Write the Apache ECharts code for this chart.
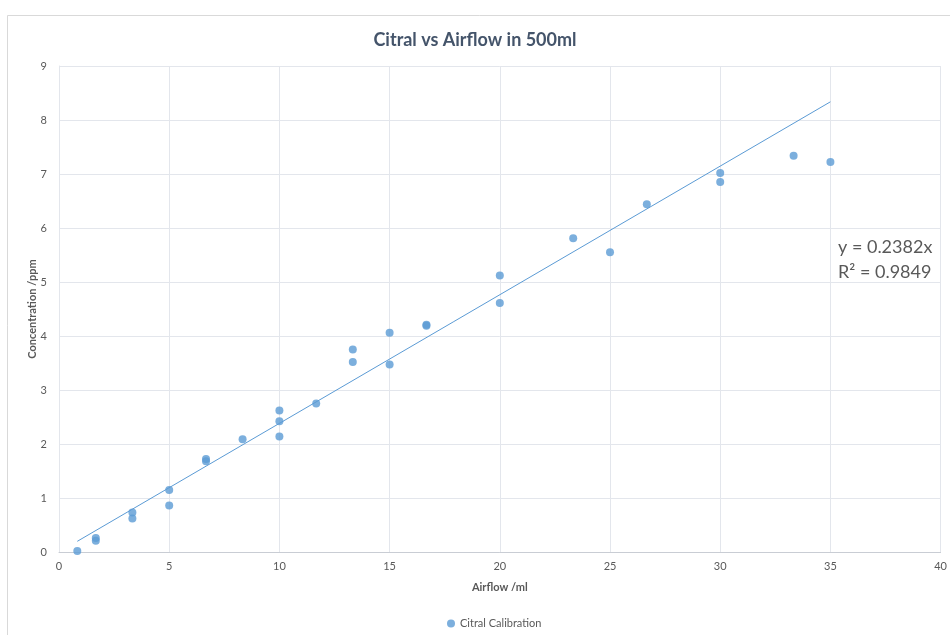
<!DOCTYPE html>
<html>
<head>
<meta charset="utf-8">
<script src="https://cdn.jsdelivr.net/npm/echarts@6/dist/echarts.min.js"></script>
<style>
  html, body { margin: 0; padding: 0; background: #fff; }
  #chart { width: 950px; height: 635px; }
</style>
</head>
<body>
<div id="chart"></div>
<script>
// Calibration runs: airflow (ml) against measured citral concentration (ppm)
const airflow = [0.83, 1.67, 1.67, 3.33, 3.33, 5, 5, 6.67, 6.67, 8.33, 10, 10, 10, 11.67,
  13.33, 13.33, 15, 15, 16.67, 16.67, 20, 20, 23.33, 25, 26.67, 30, 30, 33.33, 35];
const concentration = [0.02, 0.26, 0.21, 0.73, 0.62, 1.15, 0.86, 1.72, 1.68, 2.09, 2.62, 2.42, 2.14, 2.75,
  3.75, 3.52, 4.06, 3.47, 4.21, 4.19, 5.12, 4.61, 5.81, 5.55, 6.44, 7.02, 6.85, 7.34, 7.22];

// Linear fit through the origin
const trendSlope = 0.2382;
const trendR2 = 0.9849;

const xTicks = { min: 0, max: 40, step: 5 };
const yTicks = { min: 0, max: 9, step: 1 };

const points = airflow.map((x, i) => [x, concentration[i]]);
const xLo = Math.min(...airflow);
const xHi = Math.max(...airflow);
const trendLine = [[xLo, trendSlope * xLo], [xHi, trendSlope * xHi]];

const FONT = 'Lato, "Open Sans", sans-serif';
const BLUE = '#5b9bd5';
const TEXT = '#595959';
const GRID = '#e3e6ec';

const chart = echarts.init(document.getElementById('chart'), null, { renderer: 'canvas' });
chart.setOption({
  backgroundColor: '#ffffff',
  animation: false,
  title: {
    text: 'Citral vs Airflow in 500ml',
    left: 'center',
    top: 26,
    textStyle: { fontFamily: FONT, fontSize: 18, fontWeight: 'bold', color: '#44546a' }
  },
  graphic: [
    {
      type: 'rect',
      shape: { x: 7.5, y: 15.5, width: 960, height: 640 },
      style: { fill: 'none', stroke: '#d9d9d9', lineWidth: 1 },
      silent: true
    },
    {
      type: 'text',
      left: 838,
      top: 235,
      style: {
        text: 'y = ' + trendSlope + 'x\nR\u00b2 = ' + trendR2,
        fontFamily: FONT,
        fontSize: 18,
        lineHeight: 25,
        fill: TEXT
      }
    }
  ],
  legend: {
    data: [{ name: 'Citral Calibration', icon: 'circle' }],
    left: 442,
    top: 613,
    itemWidth: 8,
    itemHeight: 8,
    itemGap: 4,
    textStyle: { fontFamily: FONT, fontSize: 11, color: TEXT }
  },
  grid: { left: 59, right: 9, top: 66, bottom: 83, containLabel: false },
  xAxis: {
    type: 'value',
    min: xTicks.min,
    max: xTicks.max,
    interval: xTicks.step,
    name: 'Airflow /ml',
    nameLocation: 'middle',
    nameGap: 30,
    nameTextStyle: { fontFamily: FONT, fontSize: 11, fontWeight: 'bold', color: TEXT },
    axisLine: { show: true, lineStyle: { color: '#c9cdd4', width: 1 } },
    axisTick: { show: false },
    axisLabel: { fontFamily: FONT, fontSize: 11, color: TEXT, margin: 9 },
    splitLine: { show: true, lineStyle: { color: GRID, width: 1 } }
  },
  yAxis: {
    type: 'value',
    min: yTicks.min,
    max: yTicks.max,
    interval: yTicks.step,
    name: 'Concentration /ppm',
    nameLocation: 'middle',
    nameGap: 21,
    nameMoveOverlap: false,
    nameTextStyle: { fontFamily: FONT, fontSize: 11, fontWeight: 'bold', color: TEXT },
    axisLine: { show: true, lineStyle: { color: GRID, width: 1 } },
    axisTick: { show: false },
    axisLabel: { fontFamily: FONT, fontSize: 11, color: TEXT, margin: 12 },
    splitLine: { show: true, lineStyle: { color: GRID, width: 1 } }
  },
  series: [
    {
      name: 'Citral Calibration',
      type: 'scatter',
      data: points,
      symbol: 'circle',
      symbolSize: 8,
      itemStyle: { color: BLUE },
      z: 3
    },
    {
      name: 'Trend',
      type: 'line',
      data: trendLine,
      showSymbol: false,
      symbol: 'none',
      lineStyle: { color: BLUE, width: 1 },
      silent: true,
      z: 2
    }
  ]
});
</script>
</body>
</html>
